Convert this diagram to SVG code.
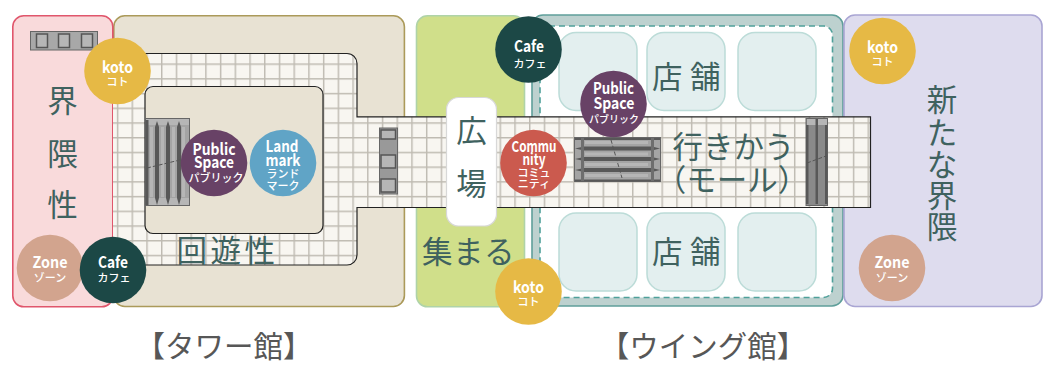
<svg xmlns="http://www.w3.org/2000/svg" width="1049" height="371" viewBox="0 0 1049 371">
<style>
.j{font-family:"Noto Sans CJK JP","Noto Sans",sans-serif;fill:#3f625f;font-size:30.500px;text-anchor:middle}
.js{font-family:"Noto Sans CJK JP","Noto Sans",sans-serif;fill:#3f625f;font-size:30.500px}
.t{font-family:"Noto Sans CJK JP",sans-serif;fill:#575757;font-size:29.500px;text-anchor:middle}
.e{font-family:"Noto Sans CJK JP","Noto Sans",sans-serif;fill:#fff;font-weight:700;font-size:16px;text-anchor:middle}
.s{font-family:"Noto Sans CJK JP",sans-serif;fill:#fff;font-weight:500;font-size:11px;text-anchor:middle}
.shop{fill:#e3efef;stroke:#bcdcd8;stroke-width:1.500}
.dk{fill:#585858}
.lt{fill:#b6b6b6}
.box{fill:#b6b6b6;stroke:#555;stroke-width:1.500}
.crack{stroke:#555;fill:none;stroke-dasharray:4 2}
</style>
<defs>
<pattern id="grid" patternUnits="userSpaceOnUse" x="161" y="63.400" width="14.720" height="14.720">
<rect width="14.720" height="14.720" fill="#f8f6f1"/>
<path d="M0.700 0V14.720M0 0.700H14.720" stroke="#bfbbb2" stroke-width="1.500" fill="none"/>
</pattern>
</defs>
<g id="zone-tower"><rect x="113.800" y="15.800" width="290.600" height="290.700" rx="11" fill="#e8e2d3" stroke="#ab9a5a" stroke-width="1.600"/></g>
<g id="zone-pink"><rect x="12.800" y="15.800" width="100" height="291" rx="11" fill="#f9dadb" stroke="#e0566c" stroke-width="1.600"/></g>
<g id="zone-green"><rect x="416.500" y="15.800" width="108" height="291" rx="11" fill="#d0df8a" stroke="#afd3a8" stroke-width="1.600"/></g>
<g id="zone-wing">
<rect x="532" y="15" width="311" height="291" rx="11" fill="#bdd1cf" stroke="#5f9f9a" stroke-width="1.600"/>
<rect x="540" y="26" width="292.500" height="271.500" rx="9" fill="#fff" stroke="#4fa09a" stroke-width="1.600" stroke-dasharray="6 4"/>
<rect class="shop" x="559" y="32.500" width="78" height="78" rx="17"/>
<rect class="shop" x="647" y="32.500" width="78" height="78" rx="17"/>
<rect class="shop" x="738" y="32.500" width="78" height="78" rx="17"/>
<rect class="shop" x="559" y="213" width="78" height="78" rx="17"/>
<rect class="shop" x="647" y="213" width="78" height="78" rx="17"/>
<rect class="shop" x="738" y="213" width="78" height="78" rx="17"/>
</g>
<g id="zone-lilac"><rect x="844" y="15" width="198" height="291.500" rx="11" fill="#dedcee" stroke="#a9a5d3" stroke-width="1.600"/></g>
<g id="connectors"></g>
<g id="floor">
<path d="M113 53.500H347a10 10 0 0 1 10 10V116.800H870.500V207.500H357V255a10 10 0 0 1-10 10H113Z" fill="url(#grid)"/>
<path d="M113 53.500H347a10 10 0 0 1 10 10V116.800H870.500V207.500H357V255a10 10 0 0 1-10 10H113" fill="none" stroke="#222" stroke-width="1.200"/>
<rect x="145" y="86.500" width="178" height="147" rx="8" fill="#e8e2d3" stroke="#222" stroke-width="1.200"/>
</g>
<g id="stair-top">
<rect x="30.500" y="31.500" width="67" height="18.500" fill="#a8a8a8" stroke="#666"/>
<rect class="box" x="36.500" y="34" width="11" height="13.500"/>
<rect class="box" x="58.500" y="34" width="11" height="13.500"/>
<rect class="box" x="81.500" y="34" width="11" height="13.500"/>
</g>
<g id="stair-left">
<rect x="145.500" y="118.500" width="44" height="87" fill="#a4a4a4" stroke="#666"/>
<rect class="lt" x="146" y="119" width="43" height="6"/>
<rect class="lt" x="146" y="198" width="43" height="7"/>
<rect class="lt" x="150" y="127" width="3" height="70"/>
<rect class="lt" x="161" y="127" width="3" height="70"/>
<rect class="lt" x="172" y="127" width="3" height="70"/>
<rect class="lt" x="182" y="127" width="3" height="70"/>
<rect class="dk" x="145.500" y="120" width="3" height="85"/>
<path class="dk" d="M157 121L159 127V198L157 205L155 198V127Z"/>
<path class="dk" d="M168 121L170 127V198L168 205L166 198V127Z"/>
<path class="dk" d="M179 121L181 127V198L179 205L177 198V127Z"/>
<path class="crack" d="M147 168L188 158"/>
</g>
<g id="stair-mid">
<rect x="379.500" y="128" width="18" height="66" fill="#999" stroke="#666"/>
<rect class="box" x="381" y="130" width="14.500" height="9"/>
<rect class="box" x="381" y="155" width="14.500" height="13"/>
<rect class="box" x="381" y="179" width="14.500" height="13"/>
</g>
<g id="stair-mall">
<rect x="574.500" y="137.500" width="86" height="44" fill="#a4a4a4" stroke="#666"/>
<rect class="lt" x="585" y="141" width="63" height="3"/>
<rect class="lt" x="585" y="152.500" width="63" height="3"/>
<rect class="lt" x="585" y="163" width="63" height="3"/>
<rect class="lt" x="585" y="174" width="63" height="3"/>
<rect class="dk" x="575" y="138" width="85" height="2"/>
<rect class="dk" x="575" y="179.500" width="85" height="2"/>
<path class="dk" d="M575 148.500L584 146.500H652L660 148.500L652 150.500H584Z"/>
<path class="dk" d="M575 159L584 157H652L660 159L652 161H584Z"/>
<path class="dk" d="M575 170L584 168H652L660 170L652 172H584Z"/>
<rect x="581" y="138" width="3" height="43" fill="#6e6e6e"/>
<rect x="651" y="138" width="3" height="43" fill="#6e6e6e"/>
<path class="crack" d="M611 140L622 178"/>
</g>
<g id="stair-right">
<rect x="806" y="118.500" width="21.500" height="87" fill="#8a8a8a" stroke="#666"/>
<rect class="lt" x="807" y="119" width="9" height="6"/>
<rect class="lt" x="818" y="119" width="9" height="6"/>
<rect class="dk" x="806" y="125" width="2.500" height="79"/>
<rect class="dk" x="815.500" y="119" width="2.500" height="85"/>
<rect class="dk" x="825" y="125" width="2.500" height="79"/>
<path class="crack" d="M807 163L826 156"/>
</g>
<g id="plaza"><rect x="446.500" y="97.500" width="50" height="128.500" rx="12" fill="#fff" stroke="#d8d8d8" stroke-width="1.200"/></g>
<g id="labels">
<text class="j" x="62.500" y="111.500">界</text>
<text class="j" x="62.500" y="164.500">隈</text>
<text class="j" x="62.500" y="215.500">性</text>
<text class="js" x="176.500" y="262" letter-spacing="3.500">回遊性</text>
<text class="j" x="471.500" y="141.500">広</text>
<text class="j" x="471.500" y="194.500">場</text>
<text class="js" x="422" y="262.500" letter-spacing="0.500">集まる</text>
<text class="js" x="652" y="87.500" letter-spacing="7.500">店舗</text>
<text class="js" x="652" y="263" letter-spacing="7.500">店舗</text>
<text class="js" x="672.500" y="157.500">行きかう</text>
<text class="j" x="732" y="190.500">（モール）</text>
<text class="j" x="942" y="111">新</text>
<text class="j" x="942" y="143.500">た</text>
<text class="j" x="942" y="175.500">な</text>
<text class="j" x="942" y="206.500">界</text>
<text class="j" x="942" y="238">隈</text>
<text class="t" x="224" y="357">【タワー館】</text>
<text class="t" x="703" y="357">【ウイング館】</text>
</g>
<g id="koto1"><circle cx="117.500" cy="71" r="33.300" fill="#e6b945"/><text class="e" x="117.500" y="73" textLength="31" lengthAdjust="spacingAndGlyphs">koto</text><text class="s" x="117.500" y="86">コト</text></g>
<g id="koto2"><circle cx="528.500" cy="291.500" r="33.300" fill="#e6b945"/><text class="e" x="528.500" y="293" textLength="31" lengthAdjust="spacingAndGlyphs">koto</text><text class="s" x="528.500" y="306">コト</text></g>
<g id="koto3"><circle cx="882.500" cy="51" r="33.300" fill="#e6b945"/><text class="e" x="882.500" y="53" textLength="31" lengthAdjust="spacingAndGlyphs">koto</text><text class="s" x="882.500" y="66">コト</text></g>
<g id="zone1"><circle cx="50" cy="268" r="33.300" fill="#d2a48e"/><text class="e" x="50" y="268" textLength="35" lengthAdjust="spacingAndGlyphs">Zone</text><text class="s" x="50" y="282">ゾーン</text></g>
<g id="zone2"><circle cx="892" cy="268" r="33.300" fill="#d2a48e"/><text class="e" x="892" y="268" textLength="35" lengthAdjust="spacingAndGlyphs">Zone</text><text class="s" x="892" y="282">ゾーン</text></g>
<g id="cafe1"><circle cx="113" cy="270" r="33.300" fill="#1c4846"/><text class="e" x="113" y="268" textLength="30" lengthAdjust="spacingAndGlyphs">Cafe</text><text class="s" x="114" y="282">カフェ</text></g>
<g id="cafe2"><circle cx="528.500" cy="49.500" r="33.300" fill="#1c4846"/><text class="e" x="529" y="52" textLength="30" lengthAdjust="spacingAndGlyphs">Cafe</text><text class="s" x="530" y="68">カフェ</text></g>
<g id="ps1"><circle cx="214" cy="163" r="33.300" fill="#684266"/><text class="e" x="214" y="155" textLength="43" lengthAdjust="spacingAndGlyphs">Public</text><text class="e" x="214" y="168" textLength="40" lengthAdjust="spacingAndGlyphs">Space</text><text class="s" x="216" y="182">パブリック</text></g>
<g id="ps2"><circle cx="613.500" cy="104" r="33.300" fill="#684266"/><text class="e" x="613.500" y="93.500" textLength="41" lengthAdjust="spacingAndGlyphs">Public</text><text class="e" x="614" y="109" textLength="41" lengthAdjust="spacingAndGlyphs">Space</text><text class="s" x="614" y="122.500" style="font-size:10px">パブリック</text></g>
<g id="landmark"><circle cx="283" cy="163" r="33.300" fill="#60a4c6"/><text class="e" x="282" y="152" textLength="33" lengthAdjust="spacingAndGlyphs">Land</text><text class="e" x="283" y="166" textLength="35" lengthAdjust="spacingAndGlyphs">mark</text><text class="s" x="283" y="178">ランド</text><text class="s" x="283" y="190">マーク</text></g>
<g id="community"><circle cx="533.500" cy="163" r="33.300" fill="#cb5a4e"/><text class="e" x="534" y="151.500" textLength="45" lengthAdjust="spacingAndGlyphs" style="font-size:15px">Commu</text><text class="e" x="534" y="165" textLength="23" lengthAdjust="spacingAndGlyphs" style="font-size:15px">nity</text><text class="s" x="534" y="177">コミュ</text><text class="s" x="534" y="188">ニティ</text></g>
</svg>
